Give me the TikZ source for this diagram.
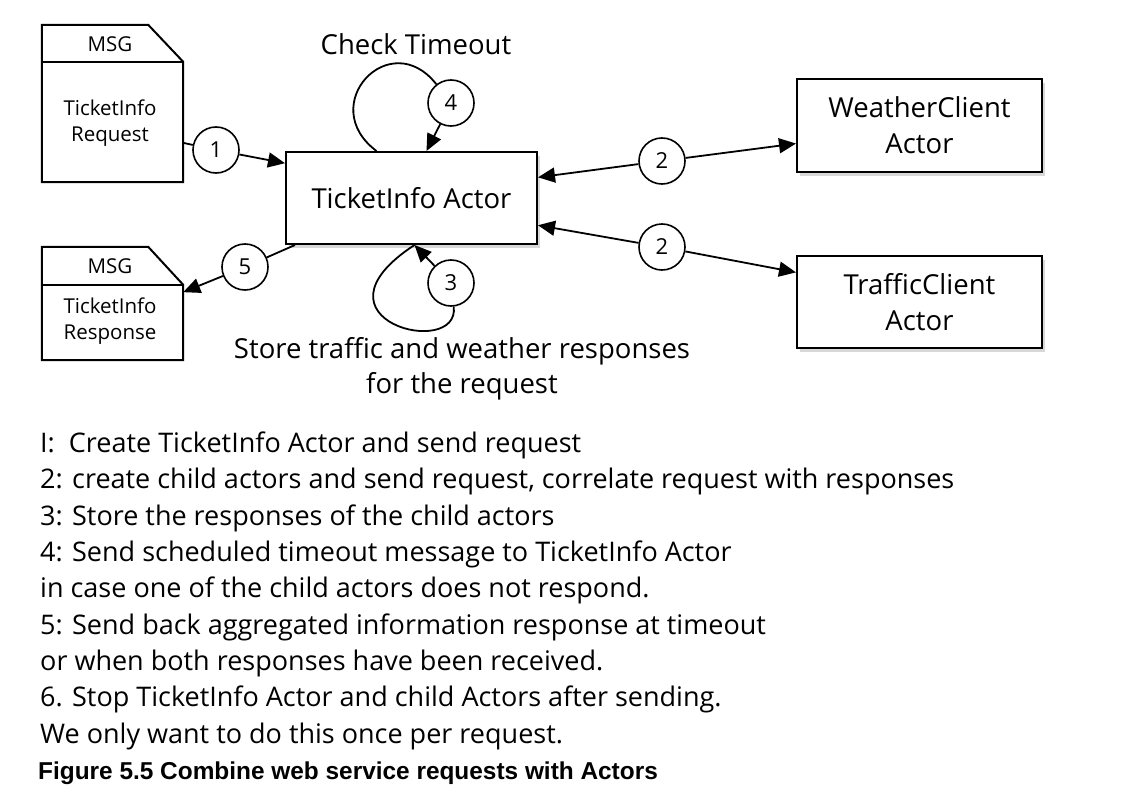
\documentclass[tikz,border=0pt]{standalone}
\usepackage{fontspec}
\setmainfont{Open Sans}
\newfontfamily\capfont{Liberation Sans}
\usetikzlibrary{arrows.meta,shadows,calc}
\begin{document}
\begin{tikzpicture}[x=1pt,y=-1pt,
  actorbox/.style={draw,line width=2pt,fill=white,align=center,
     drop shadow={shadow xshift=3pt,shadow yshift=-4pt,opacity=0.3},
     font=\fontsize{27.5}{36}\selectfont},
  docarea/.style={inner sep=0pt},
  outline/.style={line width=2pt,line join=miter},
  num/.style={circle,draw,line width=1.6pt,fill=white,minimum size=46pt,inner sep=0pt,font=\fontsize{22}{22}\selectfont},
  arr/.style={line width=1.8pt,-{Triangle[length=17pt,width=15pt]}},
  plain/.style={line width=1.8pt},
  doctext/.style={align=center,font=\fontsize{20.5}{26}\selectfont},
  lbl/.style={align=center,font=\fontsize{27.5}{35}\selectfont},
  legend/.style={anchor=base west,inner sep=0pt,font=\fontsize{27}{30}\selectfont},
]
\useasboundingbox[fill=white] (0,0) rectangle (1124,789);

% documents
\node[docarea,minimum width=141pt,minimum height=157pt] (req) at (112.5,103.5) {};
\node[docarea,minimum width=141pt,minimum height=113pt] (resp) at (112.5,303.5) {};
\draw[outline] (req.south west) -- (req.north west) -- ([xshift=-35pt]req.north east)
  -- ([yshift=-37pt]req.north east) -- (req.south east) -- cycle;
\draw[outline] ([yshift=-37pt]req.north west) -- ([yshift=-37pt]req.north east);
\draw[outline] (resp.south west) -- (resp.north west) -- ([xshift=-35pt]resp.north east)
  -- ([yshift=-38pt]resp.north east) -- (resp.south east) -- cycle;
\draw[outline] ([yshift=-38pt]resp.north west) -- ([yshift=-38pt]resp.north east);
\node[doctext] (reqmsg) at (110,44) {MSG};
\node[doctext] (reqtxt) at (110,123) {TicketInfo\\Request};
\node[doctext] (respmsg) at (110,266) {MSG};
\node[doctext] (resptxt) at (110,321) {TicketInfo\\Response};

% actors
\node[actorbox,minimum width=251pt,minimum height=92pt] (actor) at (411.5,198) {TicketInfo Actor};
\node[actorbox,minimum width=245pt,minimum height=93pt] (weather) at (919.5,125.5) {WeatherClient\\Actor};
\node[actorbox,minimum width=245pt,minimum height=92pt] (traffic) at (919.5,302) {TrafficClient\\Actor};

% numbered circles
\node[num] (c1) at (216,150) {1};
\node[num] (c4) at (451,103) {4};
\node[num] (c5) at (245,267) {5};
\node[num] (c3) at (451,283) {3};
\node[num] (c2a) at (662,161) {2};
\node[num] (c2b) at (662,247) {2};

% connectors
\draw[plain] (c1) -- ($(req.north east)!0.75!(req.south east)$);
\draw[arr] (c1) -- ($(actor.north west)!0.13!(actor.south west)$);
\draw[plain] (c5) -- ([xshift=10pt]actor.south west);
\draw[arr] (c5) -- ($(resp.north east)!0.4!(resp.south east)$);
\draw[plain] ([xshift=-35pt]actor.north) .. controls (315,105) and (390,25) .. (c4);
\draw[arr] (c4) -- ([xshift=15pt]actor.north);
\draw[plain] ([xshift=3pt]actor.south) .. controls (300,320) and (460,360) .. (c3);
\draw[arr] (c3) -- ([xshift=3pt]actor.south);
\draw[arr] (c2a) -- ($(actor.north east)!0.28!(actor.south east)$);
\draw[arr] (c2a) -- ($(weather.north west)!0.69!(weather.south west)$);
\draw[arr] (c2b) -- ($(actor.north east)!0.79!(actor.south east)$);
\draw[arr] (c2b) -- ($(traffic.north west)!0.185!(traffic.south west)$);

% labels
\node[lbl] (check) at (416,44) {Check Timeout};
\node[lbl] (store) at (462,369) {Store traffic and weather responses\\for the request};

% legend
\node[legend] (l1) at (40,452) {I:\ \ Create TicketInfo Actor and send request};
\node[legend] (l2) at (40,488.5) {2: create child actors and send request, correlate request with responses};
\node[legend] (l3) at (40,525) {3: Store the responses of the child actors};
\node[legend] (l4) at (40,561) {4: Send scheduled timeout message to TicketInfo Actor};
\node[legend] (l5) at (40,597.5) {in case one of the child actors does not respond.};
\node[legend] (l6) at (40,634) {5: Send back aggregated information response at timeout};
\node[legend] (l7) at (40,670) {or when both responses have been received.};
\node[legend] (l8) at (40,706.5) {6. Stop TicketInfo Actor and child Actors after sending.};
\node[legend] (l9) at (40,743) {We only want to do this once per request.};
\node[anchor=base west,inner sep=0pt,font=\capfont\bfseries\fontsize{24.4}{28}\selectfont] (cap) at (38,779) {Figure 5.5 Combine web service requests with Actors};
\end{tikzpicture}
\end{document}
